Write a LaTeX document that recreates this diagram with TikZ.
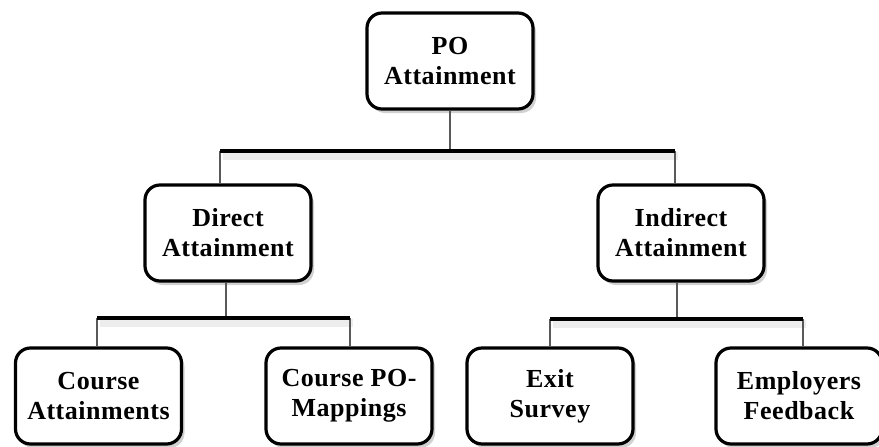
\documentclass[tikz,border=0pt]{standalone}
\usepackage{fontspec}
\setmainfont[LetterSpace=2]{Liberation Serif}
\usetikzlibrary{shadows,calc}
\begin{document}
\begin{tikzpicture}[x=1pt,y=-1pt,
  box/.style={draw=black, line width=3.2pt, rounded corners=15pt, fill=white,
    minimum width=166pt, minimum height=96pt, inner sep=0pt, align=center,
    font=\bfseries\fontsize{26}{30}\selectfont,
    drop shadow={opacity=0.3, shadow xshift=3pt, shadow yshift=-4pt, fill=black!60}},
  bar/.style={line width=4pt, black},
  stem/.style={line width=1.1pt, black!65},
  barshadow/.style={line width=8pt, black!7}]
\useasboundingbox (0,0) rectangle (879,447);
% bars (with soft shadows)
\coordinate (b1L) at (220,151); \coordinate (b1R) at (675,151);
\coordinate (b2L) at (97,318);  \coordinate (b2R) at (350,318);
\coordinate (b3L) at (550,319); \coordinate (b3R) at (803,319);
\foreach \a/\b in {b1L/b1R,b2L/b2R,b3L/b3R}{
  \draw[barshadow] ($(\a)+(3,5)$) -- ($(\b)+(3,5)$);
}
\node[box] (po) at (450,61) {PO\\Attainment};
\node[box] (dir) at (228,233) {Direct\\Attainment};
\node[box] (ind) at (681,233) {Indirect\\Attainment};
\node[box] (ca) at (98.5,396) {Course\\Attainments};
\node[box] (cpm) at (349,396) {Course PO-\\Mappings};
\node[box] (es) at (550,396) {Exit\\Survey};
\node[box] (ef) at (799,396) {Employers\\Feedback};
% stems
\draw[stem] (po.south) -- (po.south |- b1L);
\draw[stem] (b1L) -- (b1L |- dir.north);
\draw[stem] (b1R) -- (b1R |- ind.north);
\draw[stem] ($(dir.south)+(-2,0)$) -- ($(dir.south |- b2L)+(-2,0)$);
\draw[stem] (b2L) -- (b2L |- ca.north);
\draw[stem] (b2R) -- (b2R |- cpm.north);
\draw[stem] ($(ind.south)+(-4,0)$) -- ($(ind.south |- b3L)+(-4,0)$);
\draw[stem] (b3L) -- (b3L |- es.north);
\draw[stem] (b3R) -- (b3R |- ef.north);
% bars
\draw[bar] (b1L) -- (b1R);
\draw[bar] (b2L) -- (b2R);
\draw[bar] (b3L) -- (b3R);
\end{tikzpicture}
\end{document}
